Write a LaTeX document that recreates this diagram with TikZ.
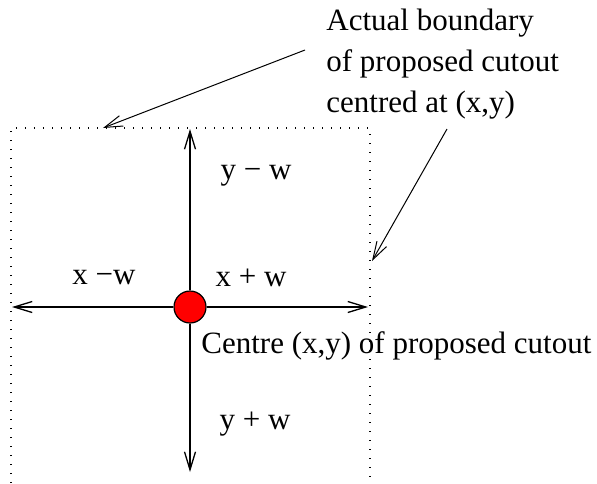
\documentclass[tikz,border=0pt]{standalone}
\usepackage{fontspec}
\setmainfont{Liberation Serif}
\usetikzlibrary{arrows.meta,positioning}

\begin{document}
\begin{tikzpicture}[x=0.5pt,y=-0.5pt,
    label/.style={font=\fontsize{15.5}{20.5}\selectfont,inner sep=0pt},
    axis/.style={-{Straight Barb[length=9pt,width=5.5pt]},line width=0.65pt},
    pointer/.style={-{Straight Barb[length=9pt,width=5.5pt]},line width=0.5pt},
    bound/.style={line width=0.6pt,dash pattern=on 0.6pt off 3.9pt}
  ]
    \useasboundingbox (0,0) rectangle (597,483);

    % dotted outline of the cutout
    \draw[bound] (11,483) -- (11,128) -- (370,128) -- (370,483);

    % centre and its four half-widths
    \node[circle,draw,fill=red,line width=0.6pt,minimum size=16pt,inner sep=0pt] (c) at (190,307) {};
    \coordinate (top) at (190,129);
    \coordinate (bot) at (190,472);
    \coordinate (lft) at (12,307);
    \coordinate (rgt) at (368,307);
    \draw[axis] (c) -- (top);
    \draw[axis] (c) -- (bot);
    \draw[axis] (c) -- (lft);
    \draw[axis] (c) -- (rgt);

    \node[label] (ym) at (256,176) {y − w};
    \node[label] (xm) at (104,278) {x −w};
    \node[label] (xp) at (251,278) {x + w};
    \node[label] (yp) at (255,424) {y + w};

    \node[label,anchor=west] (centre) at (201,346) {Centre (x,y) of proposed cutout};

    \node[label,anchor=north west,align=left] (bnd) at (326,9) {Actual boundary\\of proposed cutout\\centred at (x,y)};

    \coordinate (p1) at (305,50);
    \coordinate (t1) at (103,128);
    \coordinate (p2) at (447,129);
    \coordinate (t2) at (372,261);
    \draw[pointer] (p1) -- (t1);
    \draw[pointer] (p2) -- (t2);
  \end{tikzpicture}
\end{document}
